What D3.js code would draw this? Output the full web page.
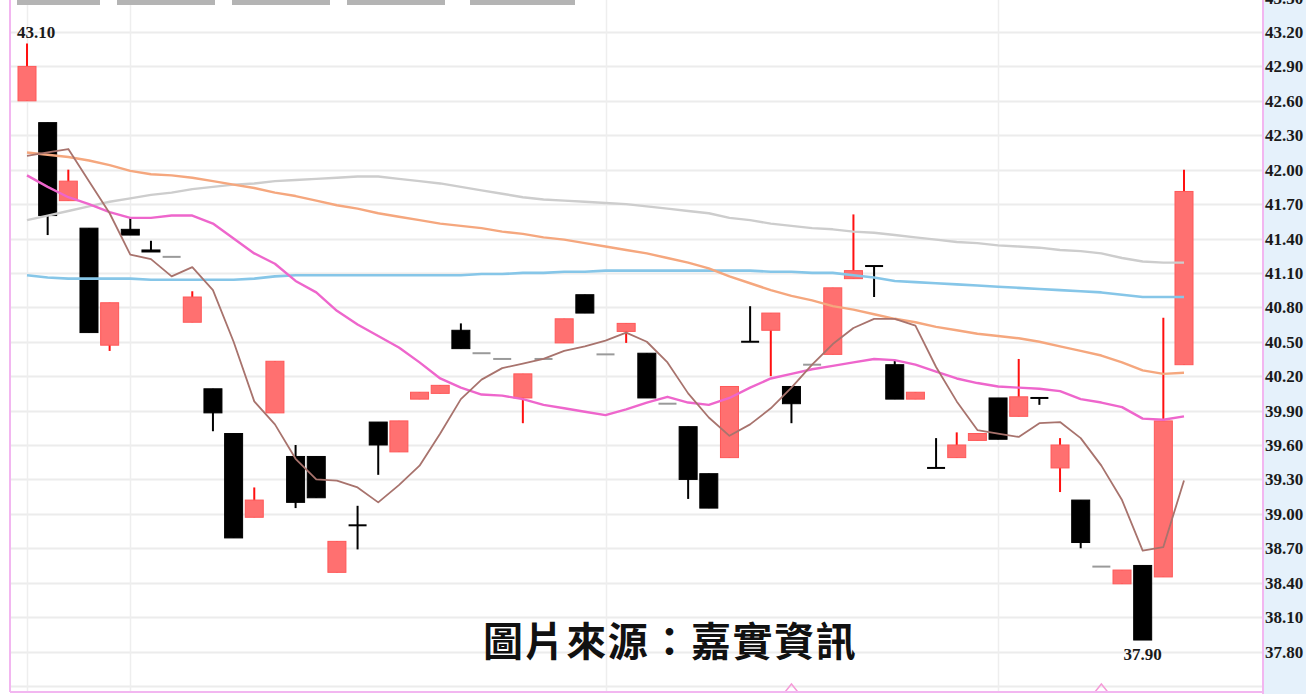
<!DOCTYPE html>
<html>
<head>
<meta charset="utf-8">
<script src="https://cdn.jsdelivr.net/npm/d3@7/dist/d3.min.js"></script>
<style>
  html, body { margin: 0; padding: 0; background: #fff; overflow: hidden; }
  svg { display: block; }
</style>
</head>
<body>
<svg id="chart" width="1306" height="694"></svg>
<script>
// ── Data (daily candles, oldest first) ──
const opens  = [42.60,42.41,41.73,41.49,40.47,41.48,41.30,41.24,40.67,40.09,39.70,38.97,39.88,39.50,39.50,38.49,38.90,39.80,39.54,40.00,40.05,40.60,40.40,40.35,40.01,40.35,40.49,40.91,40.39,40.59,40.40,39.96,39.76,39.35,39.49,40.50,40.60,40.11,40.30,40.39,41.05,41.16,40.30,40.00,39.40,39.49,39.64,40.01,39.85,40.01,39.40,39.12,38.54,38.39,38.55,38.45,40.30];
const highs  = [43.10,42.41,42.00,41.49,40.84,41.58,41.38,41.24,40.94,40.09,39.70,39.23,40.33,39.60,39.50,38.76,39.07,39.80,39.81,40.06,40.12,40.66,40.40,40.35,40.22,40.35,40.70,40.91,40.39,40.66,40.40,39.96,39.76,39.35,40.11,40.81,40.75,40.11,40.30,40.97,41.61,41.16,40.34,40.06,39.66,39.71,39.70,40.01,40.35,40.01,39.66,39.12,38.54,38.51,38.55,40.71,42.00];
const lows   = [42.60,41.43,41.73,40.58,40.42,41.43,41.29,41.24,40.67,39.72,38.79,38.97,39.88,39.05,39.14,38.49,38.69,39.34,39.54,40.00,40.05,40.44,40.40,40.35,39.79,40.35,40.49,40.75,40.39,40.49,40.01,39.96,39.13,39.05,39.49,40.50,40.20,39.79,40.30,40.39,41.05,40.89,40.00,40.00,39.40,39.49,39.64,39.65,39.85,39.95,39.19,38.70,38.54,38.39,37.90,38.45,40.30];
const closes = [42.90,41.60,41.90,40.58,40.84,41.43,41.29,41.24,40.89,39.88,38.79,39.12,40.33,39.10,39.14,38.76,38.90,39.60,39.81,40.06,40.12,40.44,40.40,40.35,40.22,40.35,40.70,40.75,40.39,40.66,40.01,39.96,39.30,39.05,40.11,40.50,40.75,39.96,40.30,40.97,41.12,41.16,40.00,40.06,39.40,39.60,39.70,39.65,40.02,40.01,39.60,38.75,38.54,38.51,37.90,39.81,41.81];

// moving-average lines as drawn
const ma5   = [42.12,42.15,42.18,41.90,41.62,41.26,41.22,41.07,41.15,40.95,40.50,39.98,39.78,39.48,39.30,39.29,39.23,39.10,39.25,39.42,39.70,40.00,40.17,40.27,40.31,40.35,40.42,40.46,40.51,40.58,40.50,40.32,40.05,39.84,39.68,39.78,39.92,40.10,40.30,40.48,40.62,40.70,40.70,40.64,40.28,39.98,39.73,39.70,39.67,39.79,39.80,39.66,39.42,39.12,38.68,38.71,39.29];
const ma10  = [41.95,41.85,41.76,41.70,41.63,41.58,41.58,41.60,41.60,41.53,41.40,41.27,41.18,41.03,40.93,40.77,40.65,40.55,40.45,40.32,40.18,40.10,40.04,40.03,40.00,39.95,39.92,39.89,39.86,39.91,39.97,40.02,39.97,39.95,40.01,40.10,40.18,40.22,40.26,40.29,40.32,40.35,40.34,40.30,40.24,40.18,40.14,40.11,40.10,40.09,40.07,40.00,39.97,39.93,39.83,39.82,39.85];
const ma20  = [42.15,42.13,42.11,42.08,42.04,41.99,41.96,41.95,41.93,41.90,41.87,41.84,41.80,41.77,41.73,41.69,41.66,41.62,41.59,41.56,41.53,41.51,41.49,41.46,41.44,41.41,41.39,41.36,41.33,41.30,41.27,41.23,41.19,41.14,41.07,41.01,40.95,40.90,40.86,40.81,40.78,40.74,40.70,40.67,40.63,40.60,40.57,40.55,40.53,40.50,40.46,40.42,40.38,40.32,40.25,40.22,40.23];
const ma60  = [41.08,41.06,41.05,41.05,41.05,41.05,41.04,41.04,41.04,41.04,41.04,41.05,41.07,41.08,41.08,41.08,41.08,41.08,41.08,41.08,41.08,41.08,41.09,41.09,41.10,41.10,41.11,41.11,41.12,41.12,41.12,41.12,41.12,41.12,41.12,41.12,41.11,41.11,41.10,41.10,41.08,41.06,41.03,41.02,41.01,41.00,40.99,40.98,40.97,40.96,40.95,40.94,40.93,40.91,40.89,40.89,40.89];
const ma120 = [41.56,41.60,41.64,41.68,41.72,41.75,41.78,41.80,41.83,41.85,41.87,41.88,41.90,41.91,41.92,41.93,41.94,41.94,41.92,41.90,41.88,41.85,41.82,41.79,41.76,41.74,41.73,41.72,41.71,41.70,41.68,41.66,41.64,41.62,41.58,41.56,41.53,41.51,41.49,41.48,41.46,41.45,41.43,41.41,41.39,41.37,41.36,41.34,41.33,41.32,41.30,41.29,41.27,41.23,41.20,41.19,41.19];

const gridTicks = d3.range(0, 21).map(i => +(37.5 + 0.3 * i).toFixed(2));
const labelTicks = gridTicks.filter(v => v >= 37.8);
const monthStarts = [0, 5, 28, 47];
const eventMarks = [37, 52];
const highLabel = { idx: 0, text: "43.10" };
const lowLabel  = { idx: 54, text: "37.90" };
const sourceText = "圖片來源：嘉實資訊";

// ── Layout ──
const W = 1306, H = 694;
const plotL = 10, plotR = 1263, plotB = 692;
const svg = d3.select("#chart");
const N = closes.length;

const x = d3.scaleLinear().domain([0, N - 1]).range([27, 1184]);
const y = d3.scaleLinear().domain([37.8, 43.2]).range([651.5, 32]);
const bodyW = 18;

// right axis panel
svg.append("rect").attr("x", plotR).attr("y", 0).attr("width", W - plotR).attr("height", H)
  .attr("fill", "#e5f1fb");

const plot = svg.append("g");
plot.append("clipPath").attr("id", "clip")
  .append("rect").attr("x", plotL).attr("y", 0).attr("width", plotR - plotL).attr("height", plotB);
const gp = plot.append("g").attr("clip-path", "url(#clip)");

// grid
gp.selectAll(".hg").data(gridTicks).join("line").attr("class", "hg")
  .attr("x1", plotL).attr("x2", plotR)
  .attr("y1", d => Math.round(y(d)) + 0.5).attr("y2", d => Math.round(y(d)) + 0.5)
  .attr("stroke", "#ececec").attr("stroke-width", 2);
gp.selectAll(".vg").data(monthStarts).join("line").attr("class", "vg")
  .attr("x1", d => Math.round(x(d)) + 0.5).attr("x2", d => Math.round(x(d)) + 0.5)
  .attr("y1", 0).attr("y2", plotB)
  .attr("stroke", "#eeeeee").attr("stroke-width", 1.5);

// top legend tabs
const tabs = [[17, 100], [117, 215], [232, 330], [347, 445], [470, 575]];
svg.selectAll(".tab").data(tabs).join("rect").attr("class", "tab")
  .attr("x", d => d[0]).attr("y", 0).attr("width", d => d[1] - d[0]).attr("height", 5)
  .attr("fill", "#b4b4b4");

// moving averages
const line = d3.line().x((d, i) => x(i)).y(d => y(d));
const maDefs = [
  { data: ma120, color: "#cdcdcd", w: 2.4 },
  { data: ma60,  color: "#86c6e8", w: 2.6 },
  { data: ma20,  color: "#f5a77e", w: 2.4 },
  { data: ma10,  color: "#ee66cc", w: 2.4 },
  { data: ma5,   color: "#a8736d", w: 1.8 }
];

// candles
const candles = closes.map((c, i) => ({ i, o: opens[i], h: highs[i], l: lows[i], c }));
const flat = d => d.o === d.c && d.h === d.l;
const up = d => d.c > d.o;

const cg = gp.selectAll(".cd").data(candles).join("g").attr("class", "cd");
cg.filter(d => !flat(d)).append("line")
  .attr("x1", d => x(d.i)).attr("x2", d => x(d.i))
  .attr("y1", d => y(d.h)).attr("y2", d => y(d.l))
  .attr("stroke", d => up(d) ? "#ff1010" : "#000").attr("stroke-width", 2);
cg.filter(d => !flat(d) && d.o !== d.c).append("rect")
  .attr("x", d => x(d.i) - bodyW / 2)
  .attr("y", d => y(Math.max(d.o, d.c)))
  .attr("width", bodyW)
  .attr("height", d => Math.max(2, y(Math.min(d.o, d.c)) - y(Math.max(d.o, d.c))))
  .attr("fill", d => up(d) ? "#ff7070" : "#000")
  .attr("stroke", d => up(d) ? "#ff5858" : "#000").attr("stroke-width", 1);
cg.filter(d => !flat(d) && d.o === d.c).append("line")
  .attr("x1", d => x(d.i) - bodyW / 2).attr("x2", d => x(d.i) + bodyW / 2)
  .attr("y1", d => y(d.c)).attr("y2", d => y(d.c))
  .attr("stroke", "#000").attr("stroke-width", 2);
cg.filter(flat).append("line")
  .attr("x1", d => x(d.i) - bodyW / 2).attr("x2", d => x(d.i) + bodyW / 2)
  .attr("y1", d => y(d.c)).attr("y2", d => y(d.c))
  .attr("stroke", "#9a9a9a").attr("stroke-width", 2);

gp.selectAll(".ma").data(maDefs).join("path").attr("class", "ma")
  .attr("d", d => line(d.data)).attr("fill", "none")
  .attr("stroke", d => d.color).attr("stroke-width", d => d.w)
  .attr("stroke-linejoin", "round");

// event markers on bottom edge
gp.selectAll(".ev").data(eventMarks).join("path").attr("class", "ev")
  .attr("d", d => `M${x(d) - 8},${plotB + 2}L${x(d)},${plotB - 8}L${x(d) + 8},${plotB + 2}`)
  .attr("fill", "none").attr("stroke", "#f59ad8").attr("stroke-width", 1.5);

// borders
svg.append("line").attr("x1", plotL).attr("x2", plotL).attr("y1", 0).attr("y2", plotB)
  .attr("stroke", "#f2b6f0").attr("stroke-width", 2);
svg.append("line").attr("x1", plotR).attr("x2", plotR).attr("y1", 0).attr("y2", H)
  .attr("stroke", "#f2b6f0").attr("stroke-width", 2);
svg.append("line").attr("x1", plotL).attr("x2", plotR).attr("y1", plotB).attr("y2", plotB)
  .attr("stroke", "#f2b6f0").attr("stroke-width", 2);

// price axis labels
const numFont = "'Liberation Serif', 'DejaVu Serif', serif";
svg.selectAll(".tk").data(labelTicks).join("text").attr("class", "tk")
  .attr("x", 1265).attr("y", d => y(d) + 6)
  .style("font-family", numFont).style("font-weight", "bold").style("font-size", "17px")
  .style("fill", "#1a1a1a")
  .text(d => d.toFixed(2));

// extreme labels
svg.append("text").attr("x", x(highLabel.idx) - 10).attr("y", y(highs[highLabel.idx]) - 5)
  .style("font-family", numFont).style("font-weight", "bold").style("font-size", "17px")
  .style("fill", "#1a1a1a").text(highLabel.text);
svg.append("text").attr("x", x(lowLabel.idx)).attr("y", y(lows[lowLabel.idx]) + 20)
  .attr("text-anchor", "middle")
  .style("font-family", numFont).style("font-weight", "bold").style("font-size", "17px")
  .style("fill", "#1a1a1a").text(lowLabel.text);

// source caption
svg.append("text").attr("x", 483).attr("y", 656)
  .style("font-family", "'Noto Sans CJK TC', 'Noto Sans CJK SC', sans-serif")
  .style("font-weight", "bold").style("font-size", "40px").style("letter-spacing", "1.6px")
  .style("fill", "#111")
  .text(sourceText);
</script>
</body>
</html>
